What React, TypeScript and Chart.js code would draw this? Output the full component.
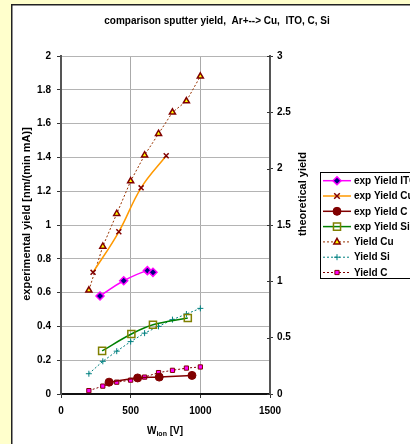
import React, { useEffect, useRef } from "react";
import { Chart, registerables } from "chart.js";

Chart.register(...registerables);

// ---- data ----
const itoX = [280, 450, 620, 660];
const itoY = [0.58, 0.67, 0.73, 0.72];
const cuX = [230, 415, 575, 755];
const cuY = [0.72, 0.96, 1.22, 1.41];
const cX = [345, 550, 705, 940];
const cY = [0.07, 0.095, 0.1, 0.11];
const siX = [295, 505, 660, 910];
const siY = [0.255, 0.355, 0.41, 0.45];
const theoX = [200, 300, 400, 500, 600, 700, 800, 900, 1000];
const theoCu = [0.92, 1.31, 1.6, 1.89, 2.12, 2.31, 2.5, 2.6, 2.82];
const theoSi = [0.18, 0.29, 0.38, 0.465, 0.54, 0.6, 0.66, 0.71, 0.76];
const theoC = [0.03, 0.07, 0.105, 0.123, 0.15, 0.19, 0.21, 0.23, 0.24];

const seriesNames = [
  "exp Yield ITO",
  "exp Yield Cu",
  "exp Yield C",
  "exp Yield Si",
  "Yield Cu",
  "Yield Si",
  "Yield C",
];
const titleText = "comparison sputter yield,  Ar+--> Cu,  ITO, C, Si";
const yTitle = "experimental yield [nm/(min mA)]";
const y2Title = "theoretical yield";

const FONT = '"Liberation Sans", Arial, sans-serif';

const pts = (xs: number[], ys: number[]) => xs.map((x, i) => ({ x, y: ys[i] }));
const fmt = (v: any) => String(Math.round(Number(v) * 10) / 10);

function drawMarker(ctx: CanvasRenderingContext2D, style: string, x: number, y: number, r: number, fill: string, stroke: string, lw: number) {
  ctx.save();
  ctx.beginPath();
  ctx.lineWidth = lw;
  ctx.strokeStyle = stroke;
  ctx.fillStyle = fill;
  switch (style) {
    case "rectRot":
      ctx.moveTo(x, y - r); ctx.lineTo(x + r, y); ctx.lineTo(x, y + r); ctx.lineTo(x - r, y); ctx.closePath();
      ctx.fill(); ctx.stroke(); break;
    case "circle":
      ctx.arc(x, y, r, 0, Math.PI * 2); ctx.fill(); ctx.stroke(); break;
    case "rect": {
      const s = r * Math.SQRT1_2;
      ctx.rect(x - s, y - s, 2 * s, 2 * s); if (fill !== "transparent") ctx.fill(); ctx.stroke(); break;
    }
    case "triangle": {
      ctx.moveTo(x, y - r); ctx.lineTo(x + r * 0.9, y + r * 0.6); ctx.lineTo(x - r * 0.9, y + r * 0.6); ctx.closePath();
      ctx.fill(); ctx.stroke(); break;
    }
    case "crossRot": {
      const s = r * 0.8;
      ctx.moveTo(x - s, y - s); ctx.lineTo(x + s, y + s); ctx.moveTo(x + s, y - s); ctx.lineTo(x - s, y + s); ctx.stroke(); break;
    }
    case "cross":
      ctx.moveTo(x - r, y); ctx.lineTo(x + r, y); ctx.moveTo(x, y - r); ctx.lineTo(x, y + r); ctx.stroke(); break;
  }
  ctx.restore();
}

const decorPlugin = {
  id: "decor",
  beforeDraw(chart: any) {
    const ctx = chart.ctx as CanvasRenderingContext2D;
    ctx.save();
    ctx.fillStyle = "#FFFFCC";
    ctx.fillRect(0, 0, chart.width, chart.height);
    ctx.fillStyle = "#FFFFFF";
    ctx.fillRect(11.75, 4.75, 600, 600);
    ctx.strokeStyle = "#222222";
    ctx.lineWidth = 1.5;
    ctx.strokeRect(11.75, 4.75, 600, 600);
    ctx.restore();
  },
  afterDraw(chart: any) {
    const ctx = chart.ctx as CanvasRenderingContext2D;
    const area = chart.chartArea;
    ctx.save();
    ctx.fillStyle = "#000";
    // title
    ctx.font = `bold 10px ${FONT}`;
    ctx.textAlign = "center";
    ctx.textBaseline = "middle";
    ctx.fillText(titleText, 217, 21);
    // left axis title
    ctx.save();
    ctx.translate(27, 214);
    ctx.rotate(-Math.PI / 2);
    ctx.font = `bold 11px ${FONT}`;
    ctx.fillText(yTitle, 0, 0);
    ctx.restore();
    // right axis title
    ctx.save();
    ctx.translate(303, 194);
    ctx.rotate(-Math.PI / 2);
    ctx.font = `bold 11px ${FONT}`;
    ctx.fillText(y2Title, 0, 0);
    ctx.restore();
    // x axis title W_ion [V]
    {
      ctx.textAlign = "left";
      ctx.textBaseline = "alphabetic";
      const big = `bold 10px ${FONT}`;
      const small = `bold 7px ${FONT}`;
      ctx.font = big; const w1 = ctx.measureText("W").width;
      ctx.font = small; const w2 = ctx.measureText("ion").width;
      ctx.font = big; const w3 = ctx.measureText(" [V]").width;
      let x = 165 - (w1 + w2 + w3) / 2;
      const base = 434;
      ctx.font = big; ctx.fillText("W", x, base); x += w1;
      ctx.font = small; ctx.fillText("ion", x, base + 2); x += w2;
      ctx.font = big; ctx.fillText(" [V]", x, base);
    }
    // inner ticks on right axis
    const y2 = chart.scales.y2;
    ctx.strokeStyle = "#333";
    ctx.lineWidth = 1;
    y2.ticks.forEach((t: any) => {
      const py = Math.round(y2.getPixelForValue(t.value)) + 0.5;
      ctx.beginPath();
      ctx.moveTo(area.right - 3, py);
      ctx.lineTo(area.right, py);
      ctx.stroke();
    });
    // legend
    const lx = 320.5, ly = 172.5;
    ctx.fillStyle = "#fff";
    ctx.fillRect(lx, ly, 200, 106);
    ctx.strokeStyle = "#000";
    ctx.lineWidth = 1;
    ctx.strokeRect(lx, ly, 200, 106);
    chart.data.datasets.forEach((ds: any, i: number) => {
      const cy = 180.7 + i * 15.3;
      ctx.save();
      ctx.strokeStyle = ds.borderColor;
      ctx.lineWidth = ds.borderWidth;
      ctx.setLineDash(ds.borderDash || []);
      ctx.beginPath();
      ctx.moveTo(323, cy);
      ctx.lineTo(351, cy);
      ctx.stroke();
      ctx.restore();
      drawMarker(ctx, ds.pointStyle, 337, cy, ds.pointRadius, ds.pointBackgroundColor, ds.pointBorderColor, ds.pointBorderWidth);
      ctx.fillStyle = "#000";
      ctx.font = `bold 10px ${FONT}`;
      ctx.textAlign = "left";
      ctx.textBaseline = "middle";
      ctx.fillText(ds.label, 354, cy + 0.5);
    });
    ctx.restore();
  },
};

export default function App() {
  const ref = useRef<HTMLCanvasElement | null>(null);
  useEffect(() => {
    if (!ref.current) return;
    const tickFont = { family: FONT, size: 10, weight: "bold" as const };
    const chart = new Chart(ref.current, {
      type: "scatter",
      data: {
        datasets: [
          {
            label: seriesNames[0], data: pts(itoX, itoY), yAxisID: "y", showLine: true, tension: 0.4,
            borderColor: "#FF00FF", borderWidth: 1.5,
            pointStyle: "rectRot", pointRadius: 4, pointBackgroundColor: "#000080", pointBorderColor: "#FF00FF", pointBorderWidth: 1.5,
          },
          {
            label: seriesNames[1], data: pts(cuX, cuY), yAxisID: "y", showLine: true, tension: 0.4,
            borderColor: "#FF9900", borderWidth: 1.5,
            pointStyle: "crossRot", pointRadius: 3.5, pointBackgroundColor: "#800000", pointBorderColor: "#800000", pointBorderWidth: 1.5,
          },
          {
            label: seriesNames[2], data: pts(cX, cY), yAxisID: "y", showLine: true, tension: 0.4,
            borderColor: "#800000", borderWidth: 1.5,
            pointStyle: "circle", pointRadius: 4, pointBackgroundColor: "#800000", pointBorderColor: "#800000", pointBorderWidth: 1,
          },
          {
            label: seriesNames[3], data: pts(siX, siY), yAxisID: "y", showLine: true, tension: 0.4,
            borderColor: "#008000", borderWidth: 1.5,
            pointStyle: "rect", pointRadius: 5, pointBackgroundColor: "transparent", pointBorderColor: "#808000", pointBorderWidth: 1.5,
          },
          {
            label: seriesNames[4], data: pts(theoX, theoCu), yAxisID: "y2", showLine: true, tension: 0,
            borderColor: "#993300", borderWidth: 1, borderDash: [2, 2],
            pointStyle: "triangle", pointRadius: 3.5, pointBackgroundColor: "#FFFF00", pointBorderColor: "#800000", pointBorderWidth: 1.5,
          },
          {
            label: seriesNames[5], data: pts(theoX, theoSi), yAxisID: "y2", showLine: true, tension: 0,
            borderColor: "#008080", borderWidth: 1, borderDash: [2, 2],
            pointStyle: "cross", pointRadius: 3, pointBackgroundColor: "#008080", pointBorderColor: "#008080", pointBorderWidth: 1,
          },
          {
            label: seriesNames[6], data: pts(theoX, theoC), yAxisID: "y2", showLine: true, tension: 0,
            borderColor: "#800000", borderWidth: 1, borderDash: [2, 2],
            pointStyle: "rect", pointRadius: 3, pointBackgroundColor: "#FF00FF", pointBorderColor: "#800000", pointBorderWidth: 1,
          },
        ] as any,
      },
      options: {
        animation: false,
        responsive: false,
        devicePixelRatio: 1,
        layout: { padding: { top: 56, left: 0, right: 0, bottom: 0 } },
        plugins: { legend: { display: false }, title: { display: false }, tooltip: { enabled: false } },
        scales: {
          x: {
            type: "linear", min: 0, max: 1500,
            ticks: { stepSize: 500, font: tickFont, color: "#000", padding: 7, callback: (v: any) => String(v), maxRotation: 0 },
            grid: { color: "#AAAAAA", lineWidth: 1, tickLength: 4, tickColor: "#333" },
            border: { color: "#111", width: 2 },
            afterFit: (s: any) => { s.height = 50; },
          },
          y: {
            type: "linear", position: "left", min: 0, max: 2,
            ticks: { stepSize: 0.2, font: tickFont, color: "#000", padding: 6, callback: fmt },
            grid: { color: "#B4B4B4", lineWidth: 1, tickLength: 4, tickColor: "#333" },
            border: { color: "#555", width: 2 },
            afterFit: (s: any) => { s.width = 61; },
          },
          y2: {
            type: "linear", position: "right", min: 0, max: 3,
            ticks: { stepSize: 0.5, font: tickFont, color: "#000", padding: 4, callback: fmt },
            grid: { drawOnChartArea: false, tickLength: 3, tickColor: "#333" },
            border: { color: "#555", width: 2 },
            afterFit: (s: any) => { s.width = 140; },
          },
        },
      } as any,
      plugins: [decorPlugin],
    });
    return () => chart.destroy();
  }, []);
  return (
    <div style={{ position: "absolute", left: 0, top: 0, width: 410, height: 444, overflow: "hidden" }}>
      <canvas ref={ref} width={410} height={444} style={{ width: 410, height: 444, display: "block" }} />
    </div>
  );
}
